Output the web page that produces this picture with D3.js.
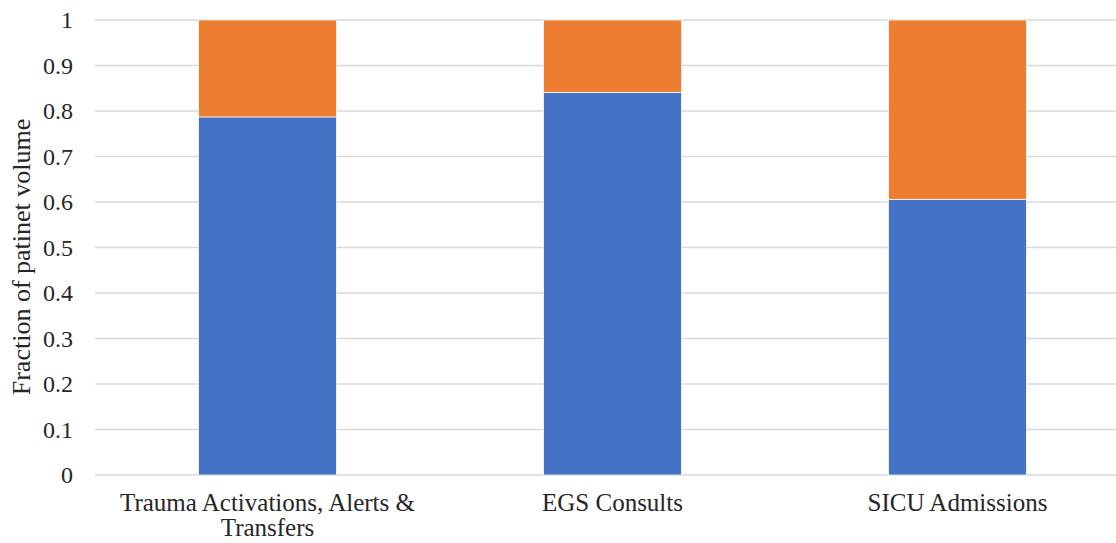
<!DOCTYPE html>
<html>
<head>
<meta charset="utf-8">
<script src="https://cdnjs.cloudflare.com/ajax/libs/d3/7.8.5/d3.min.js"></script>
<style>
  body { margin: 0; background: #fff; }
  svg { display: block; }
</style>
</head>
<body>
<svg></svg>
<script>
var categories = ["Trauma Activations, Alerts & Transfers", "EGS Consults", "SICU Admissions"];
var labelLines = [["Trauma Activations, Alerts &", "Transfers"], ["EGS Consults"], ["SICU Admissions"]];
var blueValues = [0.787, 0.841, 0.606];
var orangeValues = [0.213, 0.159, 0.394];
var yTicks = [0, 0.1, 0.2, 0.3, 0.4, 0.5, 0.6, 0.7, 0.8, 0.9, 1];

var svgWidth = 1116,
    svgHeight = 543;

var svg = d3.select("svg")
    .attr("width", svgWidth)
    .attr("height", svgHeight);

var font = "'Liberation Serif', 'Times New Roman', serif";

var x = d3.scaleBand()
    .domain(categories)
    .range([95, 1130])
    .paddingInner(0.6)
    .paddingOuter(0.3);

var y = d3.scaleLinear()
    .domain([0, 1])
    .range([475, 20]);

// gridlines
svg.selectAll("line.grid")
    .data(yTicks)
    .enter()
    .append("line")
    .attr("class", "grid")
    .attr("x1", 95)
    .attr("x2", 1130)
    .attr("y1", function (d) { return y(d); })
    .attr("y2", function (d) { return y(d); })
    .attr("stroke", "#d9d9d9")
    .attr("stroke-width", 1.5);

// y tick labels
svg.selectAll("text.ytick")
    .data(yTicks)
    .enter()
    .append("text")
    .attr("class", "ytick")
    .attr("x", 73)
    .attr("y", function (d) { return y(d); })
    .attr("dy", "0.35em")
    .attr("text-anchor", "end")
    .attr("font-family", font)
    .attr("font-size", 24)
    .attr("fill", "#262626")
    .text(function (d) { return d; });

var data = categories.map(function (c, i) {
    return { cat: c, blue: blueValues[i], orange: orangeValues[i] };
});

// blue segments
svg.selectAll("rect.blue")
    .data(data)
    .enter()
    .append("rect")
    .attr("class", "blue")
    .attr("x", function (d) { return x(d.cat); })
    .attr("width", x.bandwidth())
    .attr("y", function (d) { return y(d.blue); })
    .attr("height", function (d) { return y(0) - y(d.blue); })
    .attr("fill", "#4472C4")
    .attr("stroke", "#ffffff")
    .attr("stroke-width", 0.75);

// orange segments
svg.selectAll("rect.orange")
    .data(data)
    .enter()
    .append("rect")
    .attr("class", "orange")
    .attr("x", function (d) { return x(d.cat); })
    .attr("width", x.bandwidth())
    .attr("y", function (d) { return y(d.blue + d.orange); })
    .attr("height", function (d) { return y(d.blue) - y(d.blue + d.orange); })
    .attr("fill", "#ED7D31")
    .attr("stroke", "#ffffff")
    .attr("stroke-width", 0.75);

// category labels
var catLabels = svg.selectAll("text.xcat")
    .data(categories)
    .enter()
    .append("text")
    .attr("class", "xcat")
    .attr("text-anchor", "middle")
    .attr("font-family", font)
    .attr("font-size", 25)
    .attr("fill", "#262626");

catLabels.each(function (d, i) {
    var t = d3.select(this);
    labelLines[i].forEach(function (line, j) {
        t.append("tspan")
            .attr("x", x(d) + x.bandwidth() / 2)
            .attr("y", 511 + j * 25)
            .text(line);
    });
});

// y axis title
svg.append("text")
    .attr("transform", "translate(30,257) rotate(-90)")
    .attr("text-anchor", "middle")
    .attr("font-family", font)
    .attr("font-size", 26)
    .attr("fill", "#262626")
    .text("Fraction of patinet volume");
</script>
</body>
</html>
